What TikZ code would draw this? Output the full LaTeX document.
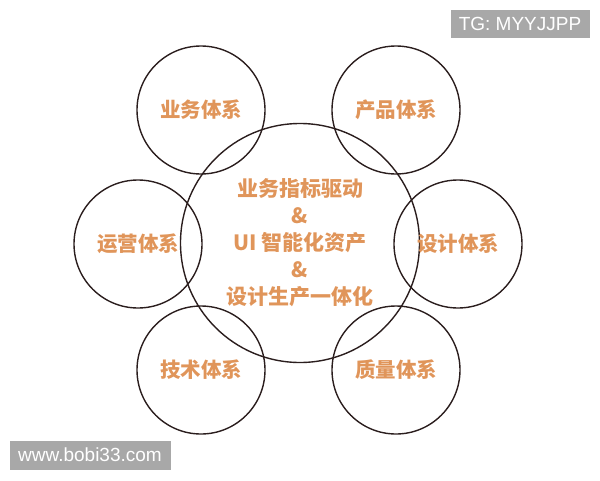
\documentclass[tikz,border=0pt]{standalone}
\usepackage{fontspec}
\setmainfont{Liberation Sans}
\newfontfamily\cjk{Noto Sans CJK SC}
\usepackage{tikz}
\definecolor{ringline}{HTML}{2B1E1E}
\definecolor{labelorange}{HTML}{E0955A}
\definecolor{markgray}{HTML}{A8A8A8}
\tikzstyle{Ring}=[circle, draw=ringline, line width=1.4pt, minimum size=128pt, inner sep=0pt, text=labelorange, font=\cjk\bfseries\fontsize{20.5}{22}\selectfont]
\tikzstyle{Core}=[circle, draw=ringline, line width=1.4pt, minimum size=239pt, inner sep=0pt, text=labelorange, align=center, font=\cjk\bfseries\fontsize{21}{27}\selectfont]
\tikzstyle{Mark}=[rectangle, fill=markgray, text=white, inner sep=0pt, font=\fontsize{19}{20}\selectfont]

\begin{document}
\begin{tikzpicture}[x=1pt, y=-1pt]
    \useasboundingbox (0,0) rectangle (600,480);
    \path
    (300,243) node[Core] (core) {业务指标驱动\\\&\\UI 智能化资产\\\&\\设计生产一体化}
    (201,110) node[Ring] (biz) {业务体系}
    (396,110) node[Ring] (prod) {产品体系}
    (138,244) node[Ring] (ops) {运营体系}
    (458,244) node[Ring] (design) {设计体系}
    (201,370) node[Ring] (tech) {技术体系}
    (396,370) node[Ring] (qual) {质量体系};

    \path
    (520,24) node[Mark, minimum width=139pt, minimum height=28pt] (tg) {TG: MYYJJPP}
    (90,455) node[Mark, minimum width=161pt, minimum height=29pt] (site) {www.bobi33.com};
\end{tikzpicture}
\end{document}
